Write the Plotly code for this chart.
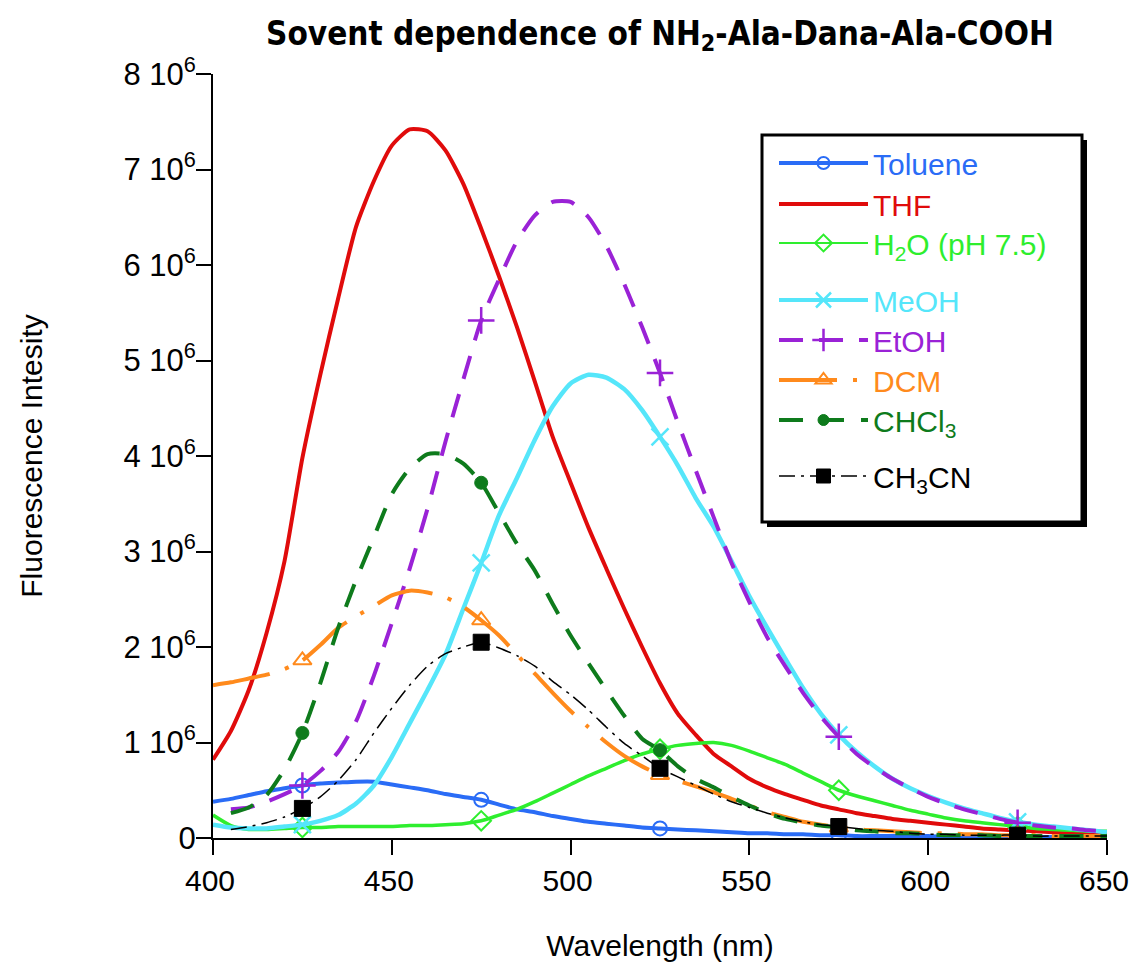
import plotly.graph_objects as go

# Wavelength grid (nm)
wavelength = list(range(400, 651, 5))

# Fluorescence intensities in units of 10^6
toluene = [0.38, 0.41, 0.45, 0.49, 0.52, 0.55, 0.57, 0.58, 0.59, 0.59, 0.56, 0.53, 0.50, 0.46, 0.43,
           0.40, 0.35, 0.30, 0.27, 0.23, 0.20, 0.17, 0.15, 0.13, 0.11, 0.10, 0.09, 0.08, 0.07, 0.06,
           0.05, 0.05, 0.04, 0.04, 0.03, 0.03, 0.02, 0.02, 0.02, 0.02, 0.02, 0.01, 0.01, 0.01, 0.01,
           0.01, 0.01, 0.01, 0.01, 0.01, 0.01]
thf = [0.82, 1.12, 1.55, 2.15, 2.90, 3.98, 4.85, 5.65, 6.40, 6.88, 7.25, 7.42, 7.40, 7.20, 6.85,
       6.38, 5.88, 5.35, 4.78, 4.20, 3.72, 3.25, 2.82, 2.40, 2.00, 1.62, 1.30, 1.08, 0.88, 0.75,
       0.62, 0.53, 0.46, 0.40, 0.34, 0.30, 0.26, 0.23, 0.20, 0.18, 0.16, 0.14, 0.12, 0.10, 0.09,
       0.08, 0.07, 0.06, 0.05, 0.05, 0.04]
h2o = [0.24, 0.13, 0.09, 0.09, 0.10, 0.11, 0.11, 0.12, 0.12, 0.12, 0.12, 0.13, 0.13, 0.14, 0.15,
       0.18, 0.24, 0.30, 0.38, 0.47, 0.56, 0.65, 0.73, 0.81, 0.88, 0.93, 0.97, 0.99, 1.00, 0.97,
       0.91, 0.84, 0.77, 0.68, 0.59, 0.50, 0.44, 0.39, 0.34, 0.29, 0.25, 0.21, 0.18, 0.16, 0.14,
       0.12, 0.10, 0.09, 0.08, 0.07, 0.07]
meoh = [0.14, 0.11, 0.10, 0.10, 0.12, 0.14, 0.18, 0.24, 0.36, 0.55, 0.85, 1.20, 1.55, 1.92, 2.40,
        2.88, 3.38, 3.77, 4.17, 4.52, 4.76, 4.85, 4.82, 4.70, 4.48, 4.20, 3.90, 3.56, 3.26, 2.90,
        2.53, 2.20, 1.88, 1.57, 1.30, 1.08, 0.90, 0.75, 0.62, 0.52, 0.44, 0.37, 0.31, 0.26, 0.21,
        0.17, 0.14, 0.12, 0.10, 0.08, 0.06]
etoh = [None, 0.30, 0.32, 0.38, 0.46, 0.55, 0.70, 0.90, 1.22, 1.70, 2.25, 2.82, 3.45, 4.15, 4.80,
        5.42, 5.85, 6.25, 6.52, 6.66, 6.66, 6.50, 6.20, 5.80, 5.35, 4.87, 4.35, 3.85, 3.36, 2.88,
        2.47, 2.10, 1.80, 1.52, 1.27, 1.06, 0.88, 0.74, 0.62, 0.52, 0.43, 0.36, 0.30, 0.25, 0.20,
        0.16, 0.13, 0.11, 0.10, 0.08, 0.07]
dcm = [1.60, 1.63, 1.67, 1.71, 1.77, 1.86, 2.02, 2.20, 2.32, 2.43, 2.54, 2.59, 2.57, 2.52, 2.42,
       2.28, 2.12, 1.92, 1.72, 1.52, 1.33, 1.16, 1.00, 0.86, 0.75, 0.66, 0.60, 0.54, 0.48, 0.41,
       0.34, 0.27, 0.22, 0.17, 0.14, 0.11, 0.09, 0.08, 0.07, 0.06, 0.05, 0.05, 0.04, 0.04, 0.03,
       0.03, 0.03, 0.02, 0.02, 0.02, 0.02]
chcl3 = [None, 0.26, 0.32, 0.45, 0.72, 1.10, 1.62, 2.20, 2.70, 3.15, 3.60, 3.87, 4.02, 4.02, 3.92,
         3.72, 3.40, 3.08, 2.80, 2.45, 2.12, 1.83, 1.55, 1.28, 1.04, 0.92, 0.75, 0.62, 0.53, 0.43,
         0.34, 0.26, 0.20, 0.16, 0.13, 0.11, 0.08, 0.07, 0.05, 0.05, 0.04, 0.03, 0.03, 0.03, 0.02,
         0.02, 0.02, 0.02, 0.02, 0.02, 0.02]
ch3cn = [None, 0.09, 0.12, 0.16, 0.22, 0.31, 0.43, 0.60, 0.82, 1.10, 1.36, 1.60, 1.80, 1.93, 2.00,
         2.05, 1.99, 1.91, 1.80, 1.64, 1.50, 1.34, 1.16, 0.99, 0.86, 0.73, 0.64, 0.55, 0.46, 0.38,
         0.32, 0.26, 0.21, 0.17, 0.14, 0.12, 0.10, 0.08, 0.07, 0.05, 0.04, 0.04, 0.03, 0.03, 0.03,
         0.03, 0.02, 0.02, 0.02, 0.02, 0.02]

marker_wavelengths = [425, 475, 525, 575, 625]

y_tick_values = [0, 1, 2, 3, 4, 5, 6, 7, 8]
y_tick_labels = ["0"] + [f"{v} 10<sup>6</sup>" for v in y_tick_values[1:]]
x_tick_values = [400, 450, 500, 550, 600, 650]

SCALE = 1e6

series = [
    # name, values, color, width, legend width, dash, marker symbol, marker size, marker line width
    ("Toluene", toluene, "#2A6CF6", 4.0, 4.0, "solid", "circle-open", 14, 2),
    ("THF", thf, "#E00B0B", 4.0, 4.0, "solid", None, 0, 0),
    ("H<sub>2</sub>O (pH 7.5)", h2o, "#2EEE2E", 3.5, 2.0, "solid", "diamond-open", 15, 2),
    ("MeOH", meoh, "#55E6FA", 4.5, 4.0, "solid", "x-thin-open", 17, 2.5),
    ("EtOH", etoh, "#9A22D6", 4.0, 4.0, "24px,16px", "cross-thin-open", 19, 2.5),
    ("DCM", dcm, "#FF8A1C", 4.0, 4.0, "58px,16px,4px,16px", "triangle-up-open", 16, 2),
    ("CHCl<sub>3</sub>", chcl3, "#0E7B1C", 4.0, 4.0, "24px,17px", "circle", 13, 1),
    ("CH<sub>3</sub>CN", ch3cn, "#000000", 1.5, 1.5, "16px,6px,3px,6px", "square", 16, 1),
]

# screen y (px) of each legend row's sample line
legend_rows = [165, 206, 245, 302, 342, 382, 422, 478]

fig = go.Figure()

for name, vals, color, width, lwidth, dash, sym, msize, mlw in series:
    ys = [None if v is None else v * SCALE for v in vals]
    fig.add_trace(go.Scatter(
        x=wavelength, y=ys, mode="lines", showlegend=False,
        line=dict(color=color, width=width, dash=dash, shape="spline", smoothing=0.6),
        hoverinfo="skip",
    ))
    if sym is not None:
        lookup = dict(zip(wavelength, ys))
        fig.add_trace(go.Scatter(
            x=marker_wavelengths, y=[lookup[w] for w in marker_wavelengths],
            mode="markers", showlegend=False, hoverinfo="skip",
            marker=dict(symbol=sym, size=msize, color=color,
                        line=dict(color=color, width=mlw)),
        ))

# page offset (browser body margin) and target plot area in screen pixels
OFF = 8
FIG_W, FIG_H = 1137 - 2 * OFF, 970 - 2 * OFF
L, R, T, B = 213, 1107, 74, 838
W, H = R - L, B - T


def px_x(p):
    return (p - L) / W


def px_y(p):
    return (B - p) / H


font_family = "Liberation Sans, Arial, sans-serif"
axis_font = dict(family=font_family, size=31, color="black")

# legend entries, one small legend per row
legend_layouts = {}
for i, ((name, vals, color, width, lwidth, dash, sym, msize, mlw), row_y) in enumerate(
        zip(series, legend_rows)):
    key = "legend" if i == 0 else f"legend{i + 1}"
    label = f"<span style='color:{color}'>{name}</span>"
    kwargs = dict(x=[None], y=[None], name=label, legend=key,
                  line=dict(color=color, width=lwidth, dash=dash))
    if sym is None:
        kwargs["mode"] = "lines"
    else:
        kwargs["mode"] = "lines+markers"
        kwargs["marker"] = dict(symbol=sym, size=msize - 2, color=color,
                                line=dict(color=color, width=mlw))
    fig.add_trace(go.Scatter(**kwargs))
    legend_layouts[key] = dict(
        x=px_x(774), y=px_y(row_y - 28), xanchor="left", yanchor="top",
        bgcolor="rgba(0,0,0,0)", borderwidth=0,
        font=dict(family=font_family, size=30),
        itemwidth=89, tracegroupgap=0,
    )

# legend frame with drop shadow
box = (762, 135, 1082, 522)
shadow = 5
fig.add_shape(type="rect", xref="paper", yref="paper", layer="above",
              x0=px_x(box[0] + shadow), x1=px_x(box[2] + shadow),
              y0=px_y(box[3] + shadow), y1=px_y(box[1] + shadow),
              fillcolor="black", line=dict(width=0))
fig.add_shape(type="rect", xref="paper", yref="paper", layer="above",
              x0=px_x(box[0]), x1=px_x(box[2]), y0=px_y(box[3]), y1=px_y(box[1]),
              fillcolor="white", line=dict(color="black", width=3))

fig.update_layout(
    width=FIG_W, height=FIG_H,
    margin=dict(l=L - OFF, r=FIG_W - (R - OFF), t=T - OFF, b=FIG_H - (B - OFF)),
    paper_bgcolor="white", plot_bgcolor="white",
    title=dict(
        text="<b>Sovent dependence of NH<sub>2</sub>-Ala-Dana-Ala-COOH</b>",
        font=dict(family="Liberation Sans Narrow, DejaVu Sans Condensed, Arial Narrow, sans-serif",
                  size=33, color="black"),
        x=px_x(660), xref="paper", xanchor="center",
        y=1 - (33 - OFF) / FIG_H, yanchor="middle",
    ),
    xaxis=dict(
        range=[400, 650], tickvals=x_tick_values, showgrid=False, zeroline=False,
        showline=True, linecolor="black", linewidth=2, automargin=False,
        ticks="outside", ticklen=15, tickwidth=2, tickcolor="black",
        tickfont=dict(family=font_family, size=30, color="black"),
        ticklabeloverflow="allow", ticklabelshift=-3,
        title=dict(text="Wavelength (nm)", font=dict(family=font_family, size=30, color="black"),
                   standoff=57),
    ),
    yaxis=dict(
        range=[0, 8 * SCALE], tickvals=[v * SCALE for v in y_tick_values], ticktext=y_tick_labels,
        showgrid=False, zeroline=False,
        showline=True, linecolor="black", linewidth=2, automargin=False,
        ticks="outside", ticklen=15, tickwidth=2, tickcolor="black",
        tickfont=axis_font, ticklabelstandoff=-6, ticklabeloverflow="allow",
        title=dict(text="Fluorescence Intesity", font=dict(family=font_family, size=30, color="black"),
                   standoff=72),
    ),
    **legend_layouts,
)

fig.write_html("out.html")
